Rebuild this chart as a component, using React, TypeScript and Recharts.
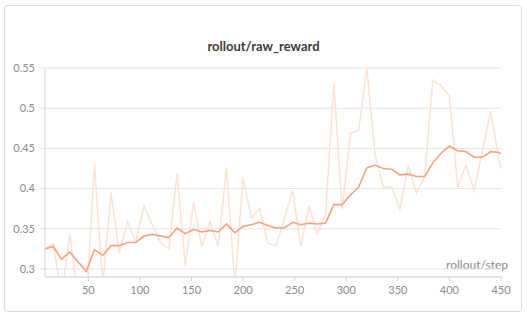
import React from 'react';
import { LineChart, Line, XAxis, YAxis, CartesianGrid } from 'recharts';

const steps = [
  8, 16, 24, 32, 40, 48, 56, 64, 72, 80, 88, 96, 104, 112, 120, 128, 136, 144, 152, 160,
  168, 176, 184, 192, 200, 208, 216, 224, 232, 240, 248, 256, 264, 272, 280, 288, 296, 304,
  312, 320, 328, 336, 344, 352, 360, 368, 376, 384, 392, 400, 408, 416, 424, 432, 440, 448, 450,
];

const rawReward = [
  0.325, 0.332, 0.265, 0.344, 0.266, 0.255, 0.43, 0.28, 0.395, 0.32, 0.359, 0.334, 0.379, 0.355,
  0.333, 0.325, 0.419, 0.304, 0.383, 0.328, 0.359, 0.328, 0.426, 0.28, 0.414, 0.363, 0.375, 0.332,
  0.329, 0.362, 0.398, 0.328, 0.378, 0.344, 0.369, 0.531, 0.374, 0.469, 0.472, 0.55, 0.442, 0.402,
  0.402, 0.374, 0.429, 0.394, 0.415, 0.535, 0.528, 0.515, 0.402, 0.429, 0.398, 0.447, 0.496, 0.436,
  0.424,
];

const smoothedReward = [
  0.325, 0.328, 0.312, 0.321, 0.309, 0.297, 0.324, 0.317, 0.329, 0.329, 0.333, 0.333, 0.341, 0.343,
  0.341, 0.339, 0.351, 0.344, 0.349, 0.346, 0.348, 0.346, 0.356, 0.345, 0.353, 0.355, 0.358, 0.354,
  0.351, 0.351, 0.358, 0.355, 0.357, 0.356, 0.357, 0.38, 0.38, 0.392, 0.402, 0.426, 0.429, 0.425,
  0.424, 0.417, 0.418, 0.415, 0.415, 0.432, 0.444, 0.453, 0.447, 0.446, 0.439, 0.439, 0.446, 0.445,
  0.443,
];

const xTicks = [50, 100, 150, 200, 250, 300, 350, 400, 450];
const yTicks = [0.3, 0.35, 0.4, 0.45, 0.5, 0.55];

const data = steps.map((step, i) => ({
  step,
  raw: rawReward[i],
  smoothed: smoothedReward[i],
}));

const font = 'Lato, "Noto Sans", sans-serif';
const tickStyle = { fill: '#8a8a8f', fontSize: 11, fontFamily: font };

export default function App() {
  return (
    <div style={{ position: 'fixed', left: 0, top: 0, width: 527, height: 320, background: '#fff' }}>
      <div
        style={{
          position: 'absolute',
          left: 4,
          top: 5,
          width: 516,
          height: 305,
          border: '1px solid #dcdcdc',
          borderRadius: 4,
        }}
      />
      <div
        style={{
          position: 'absolute',
          left: 0,
          width: 527,
          top: 38,
          textAlign: 'center',
          fontFamily: font,
          fontSize: 13,
          fontWeight: 700,
          color: '#3c3c40',
        }}
      >
        rollout/raw_reward
      </div>
      <div
        style={{
          position: 'absolute',
          right: 19,
          top: 257,
          fontFamily: font,
          fontSize: 12,
          color: '#8a8a8f',
        }}
      >
        rollout/step
      </div>
      <div style={{ position: 'absolute', left: 0, top: 0 }}>
        <LineChart width={527} height={320} data={data} margin={{ top: 68, right: 26, bottom: 0, left: 0 }}>
          <CartesianGrid horizontal vertical={false} stroke="#e4e4e4" />
          <XAxis
            dataKey="step"
            type="number"
            domain={[8, 450]}
            ticks={xTicks}
            height={43}
            tickSize={4}
            tickMargin={5}
            stroke="#d4d4d4"
            tick={tickStyle}
            allowDataOverflow
          />
          <YAxis
            type="number"
            domain={[0.29, 0.55]}
            ticks={yTicks}
            width={45}
            tickSize={5}
            tickMargin={5}
            stroke="#d4d4d4"
            tickLine={{ stroke: '#e4e4e4' }}
            tick={tickStyle}
            allowDataOverflow
          />
          <Line
            type="linear"
            dataKey="raw"
            stroke="#fde2d3"
            strokeWidth={1.5}
            dot={false}
            isAnimationActive={false}
          />
          <Line
            type="linear"
            dataKey="smoothed"
            stroke="#f4a47c"
            strokeWidth={1.6}
            dot={false}
            isAnimationActive={false}
          />
        </LineChart>
      </div>
    </div>
  );
}
